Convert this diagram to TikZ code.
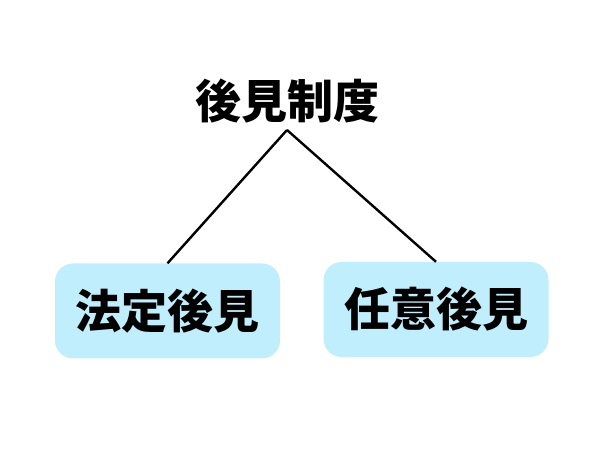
\documentclass[tikz,border=0pt]{standalone}
\usepackage{fontspec}
\newfontfamily\cjk{Noto Sans CJK JP Black}
\definecolor{boxblue}{HTML}{C0EEFC}
\begin{document}
\begin{tikzpicture}[x=1pt,y=1pt,
  lbl/.style={font=\cjk\fontsize{46}{50}\selectfont, inner sep=0pt},
  kind/.style={lbl, fill=boxblue, rounded corners=18pt, minimum width=225pt, minimum height=95pt},
  link/.style={line width=2.4pt}]
\useasboundingbox (0,0) rectangle (600,450);
\node[lbl] (title) at (287,349) {後見制度};
\coordinate (apex) at (287,320);
\node[kind] (legal) at (167.5,139) {法定後見};
\node[kind] (volun) at (436,140.5) {任意後見};
\draw[link] (apex) -- (legal.north);
\draw[link] (apex) -- (volun.north);
\end{tikzpicture}
\end{document}
